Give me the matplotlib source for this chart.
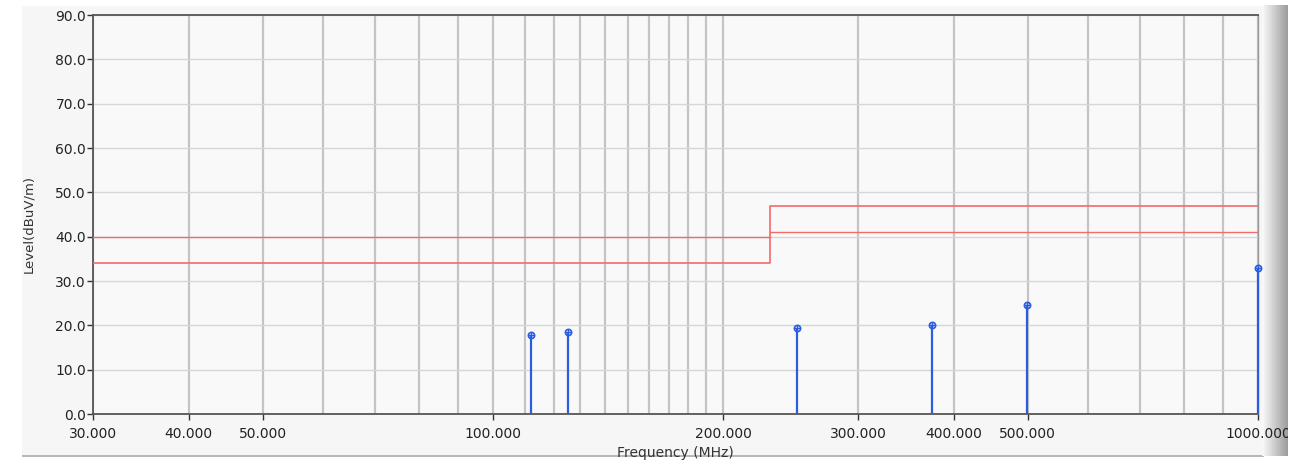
import numpy as np
import matplotlib.pyplot as plt
from matplotlib.patches import Rectangle
from matplotlib.ticker import FixedLocator, FuncFormatter, NullLocator

# measured peaks
freq = [112.0, 125.3, 249.7, 375.0, 499.0, 1000.0]
level = [17.8, 18.4, 19.5, 20.1, 24.5, 33.0]

# limit lines (MHz, dBuV/m)
lim_a_x = [30, 230, 230, 1000]
lim_a_y = [34, 34, 47, 47]
lim_b1_x = [30, 230]
lim_b1_y = [40, 40]
lim_b2_x = [230, 1000]
lim_b2_y = [41, 41]

x_ticks = [30, 40, 50, 100, 200, 300, 400, 500, 1000]
x_grid = list(range(30, 100, 10)) + list(range(100, 200, 10)) + list(range(200, 1001, 100))
y_ticks = list(range(0, 91, 10))

fig = plt.figure(figsize=(12.97, 4.61), dpi=100)
fig.patch.set_facecolor('white')

# window panel + right scrollbar edge
fig.patches.append(Rectangle((22 / 1297, 6 / 461), 1242 / 1297, 449 / 461,
                             transform=fig.transFigure, facecolor='#f6f6f6',
                             edgecolor='none', zorder=-2))
fig.patches.append(Rectangle((22 / 1297, 1 - 456.5 / 461), 1242 / 1297, 1.5 / 461,
                             transform=fig.transFigure, facecolor='#b8b8b8',
                             edgecolor='none', zorder=-1))
grad = np.linspace(0.97, 0.62, 13)
for i, g in enumerate(grad):
    x0 = 1262 + i * 2
    fig.patches.append(Rectangle((x0 / 1297, 5 / 461), 2.1 / 1297, 451 / 461,
                                 transform=fig.transFigure, facecolor=(g, g, g),
                                 edgecolor='none', zorder=-1))

ax = fig.add_axes([93 / 1297, 1 - 414 / 461, (1258 - 93) / 1297, (414 - 15) / 461])
ax.set_facecolor('#f9f9f9')
ax.set_xscale('log')
ax.set_xlim(30, 1000)
ax.set_ylim(0, 90)

for g in x_grid:
    ax.axvline(g, color='#c4c4c4', lw=1.6, zorder=1)
for g in y_ticks:
    ax.axhline(g, color='#d6d6d6', lw=1.0, zorder=1)

ax.plot(lim_a_x, lim_a_y, color='#f26a6a', lw=1.2, zorder=3)
ax.plot(lim_b1_x, lim_b1_y, color='#f26a6a', lw=1.0, zorder=3)
ax.plot(lim_b2_x, lim_b2_y, color='#f26a6a', lw=1.0, zorder=3)

ax.vlines(freq, 0, level, color='#2a5de0', lw=1.6, zorder=4, clip_on=False)
ax.plot(freq, level, 'o', ms=4.5, mfc='none', mec='#2a5de0', mew=1.2, zorder=5,
        clip_on=False)
ax.plot(freq, level, '+', ms=4.5, color='#2a5de0', mew=1.0, zorder=5, clip_on=False)

ax.xaxis.set_major_locator(FixedLocator(x_ticks))
ax.xaxis.set_minor_locator(NullLocator())
ax.xaxis.set_major_formatter(FuncFormatter(lambda v, p: f'{v:.3f}'))
ax.set_yticks(y_ticks)
ax.yaxis.set_major_formatter(FuncFormatter(lambda v, p: f'{v:.1f}'))
ax.tick_params(axis='both', labelsize=10, colors='#333333', length=4, width=1,
               labelcolor='#222222', pad=1)
ax.tick_params(axis='x', pad=5)

for s in ['left', 'bottom', 'top']:
    ax.spines[s].set_color('#555555')
    ax.spines[s].set_linewidth(1.3)
ax.spines['right'].set_color('#999999')
ax.spines['right'].set_linewidth(1.0)

ax.set_xlabel('Frequency (MHz)', fontsize=10, color='#333333', labelpad=4)
fig.text(29 / 1297, 1 - 224 / 461, 'Level(dBuV/m)', rotation=90, fontsize=9.5,
         color='#333333', ha='center', va='center',
         family=['Liberation Sans Narrow', 'DejaVu Sans'])

# white strip past the window edge clips the last tick label like the original
fig.patches.append(Rectangle((1288 / 1297, 0), 9 / 1297, 1,
                             transform=fig.transFigure, facecolor='white',
                             edgecolor='none', zorder=10))

fig.savefig('out.png', dpi=100)
